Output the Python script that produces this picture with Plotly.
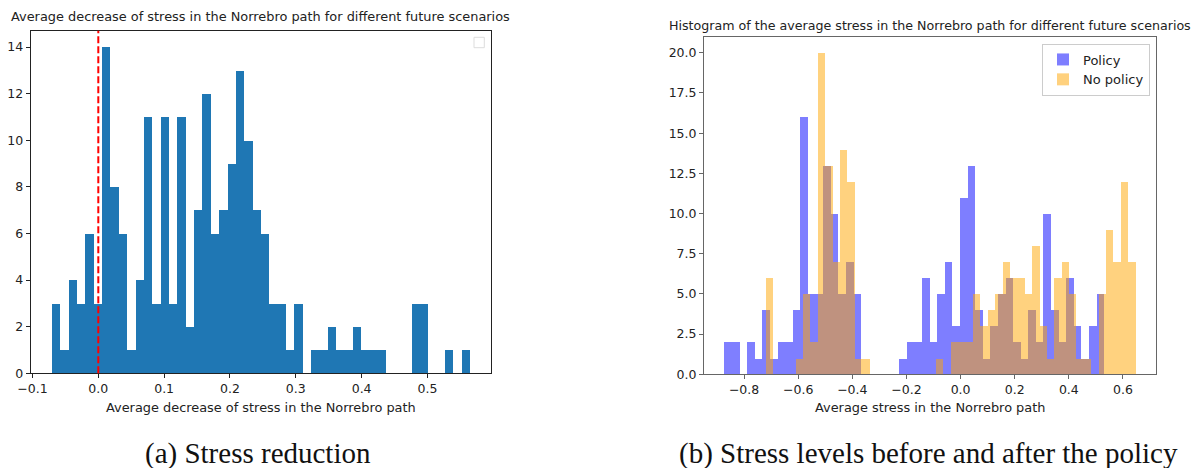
import numpy as np
import plotly.graph_objects as go

# ---------------- data ----------------
# Left: histogram of the average decrease of stress (50 bins)
left_bin_start = -0.0709
left_bin_end = 0.5643
left_counts = [3, 1, 4, 3, 6, 3, 14, 8, 6, 1,
               4, 11, 3, 11, 3, 11, 2, 7, 12, 6,
               7, 9, 13, 10, 7, 6, 3, 3, 1, 3,
               0, 1, 1, 2, 1, 1, 2, 1, 1, 1,
               0, 0, 0, 3, 3, 0, 0, 1, 0, 1]

# Right: histograms of average stress, policy vs no policy (50 bins each)
policy_bin_start = -0.8728
policy_bin_end = 0.5309
policy_counts = [2, 2, 0, 2, 1, 4, 1, 2, 2, 4,
                 16, 5, 5, 13, 10, 5, 7, 5, 0, 0,
                 0, 0, 0, 1, 2, 2, 6, 2, 5, 7,
                 3, 11, 13, 4, 1, 3, 5, 6, 2, 1,
                 4, 2, 10, 4, 2, 6, 3, 1, 3, 5]

nopolicy_bin_start = -0.7187
nopolicy_bin_end = 0.6466
nopolicy_counts = [6, 0, 0, 0, 1, 5, 2, 20, 13, 7,
                   14, 12, 1, 1, 0, 0, 0, 0, 0, 0,
                   0, 0, 0, 1, 0, 2, 2, 2, 5, 3,
                   4, 5, 7, 6, 6, 5, 8, 3, 1, 6,
                   7, 5, 1, 1, 0, 5, 9, 7, 12, 7]

left_xticks = [-0.1, 0.0, 0.1, 0.2, 0.3, 0.4, 0.5]
left_yticks = [0, 2, 4, 6, 8, 10, 12, 14]
right_xticks = [-0.8, -0.6, -0.4, -0.2, 0.0, 0.2, 0.4, 0.6]
right_yticks = [0.0, 2.5, 5.0, 7.5, 10.0, 12.5, 15.0, 17.5, 20.0]


def centers(start, end, counts):
    edges = np.linspace(start, end, len(counts) + 1)
    return (edges[:-1] + edges[1:]) / 2, edges[1] - edges[0]


W, H = 1199, 468
FONT = "DejaVu Sans"

lx, lw = centers(left_bin_start, left_bin_end, left_counts)
px, pw = centers(policy_bin_start, policy_bin_end, policy_counts)
nx, nw = centers(nopolicy_bin_start, nopolicy_bin_end, nopolicy_counts)

fig = go.Figure()
fig.add_trace(go.Bar(x=lx, y=left_counts, width=lw, marker=dict(color="#1f77b4", line=dict(width=0)),
                     xaxis="x", yaxis="y", showlegend=False))
fig.add_trace(go.Bar(x=px, y=policy_counts, width=pw, name="Policy",
                     marker=dict(color="blue", line=dict(width=0)), opacity=0.5,
                     xaxis="x2", yaxis="y2"))
fig.add_trace(go.Bar(x=nx, y=nopolicy_counts, width=nw, name="No policy",
                     marker=dict(color="orange", line=dict(width=0)), opacity=0.5,
                     xaxis="x2", yaxis="y2"))


def px2x(p):
    return p / W


def px2y(p):
    return 1 - p / H


left_col = "#222222"
right_col = "#666666"
tick_font_l = dict(family=FONT, size=12.5, color="#222222")
tick_font_r = dict(family=FONT, size=12.5, color="#222222")

common = dict(showgrid=False, zeroline=False, showline=True, mirror=True,
              ticks="outside", ticklen=4, tickwidth=1, linewidth=1)

fig.update_layout(
    width=W, height=H,
    margin=dict(l=0, r=0, t=0, b=0, autoexpand=False),
    paper_bgcolor="white", plot_bgcolor="white",
    barmode="overlay", bargap=0,
    xaxis=dict(domain=[px2x(30.7), px2x(490.7)], anchor="y", range=[-0.1027, 0.5961],
               tickvals=left_xticks, tickformat=".1f", linecolor=left_col, tickcolor=left_col,
               tickfont=tick_font_l, **common),
    yaxis=dict(domain=[px2y(373.3), px2y(30.7)], anchor="x", range=[0, 14.7],
               tickvals=left_yticks, linecolor=left_col, tickcolor=left_col,
               tickfont=tick_font_l, **common),
    xaxis2=dict(domain=[px2x(704), px2x(1156)], anchor="y2", range=[-0.948, 0.722],
                tickvals=right_xticks, tickformat=".1f", linecolor=right_col, tickcolor=right_col,
                tickfont=tick_font_r, **common),
    yaxis2=dict(domain=[px2y(374.3), px2y(36.7)], anchor="x2", range=[0, 21],
                tickvals=right_yticks, tickformat=".1f", linecolor=right_col, tickcolor=right_col,
                tickfont=tick_font_r, **common),
    legend=dict(x=px2x(1150), xanchor="right", y=px2y(43.5), yanchor="top",
                bgcolor="rgba(255,255,255,0.8)", bordercolor="#cccccc", borderwidth=1,
                font=dict(family=FONT, size=13, color="#222222"), traceorder="normal"),
)

# red dashed vertical line at 0
fig.add_shape(type="line", xref="x", yref="y domain", x0=0, x1=0, y0=0, y1=1,
              line=dict(color="red", width=2, dash="7px,3px"))
# empty legend box of left chart
fig.add_shape(type="rect", xref="paper", yref="paper",
              x0=px2x(474), x1=px2x(484.3), y0=px2y(47.7), y1=px2y(37.3),
              line=dict(color="#dddddd", width=1), fillcolor="white")

ann = [
    ("Average decrease of stress in the Norrebro path for different future scenarios", 260.5, 17, 12.9, FONT, "#222222"),
    ("Histogram of the average stress in the Norrebro path for different future scenarios", 930, 25.5, 12.65, FONT, "#222222"),
    ("Average decrease of stress in the Norrebro path", 260.5, 407, 12.9, FONT, "#222222"),
    ("Average stress in the Norrebro path", 930, 407, 12.9, FONT, "#222222"),
    ("(a) Stress reduction", 258, 453, 29, "Liberation Serif", "#111111"),
    ("(b) Stress levels before and after the policy", 928, 453, 29, "Liberation Serif", "#111111"),
]
for text, x, y, size, fam, col in ann:
    fig.add_annotation(text=text, x=px2x(x), y=px2y(y), xref="paper", yref="paper",
                       xanchor="center", yanchor="middle", showarrow=False,
                       font=dict(family=fam, size=size, color=col))

fig.write_html("out.html")
